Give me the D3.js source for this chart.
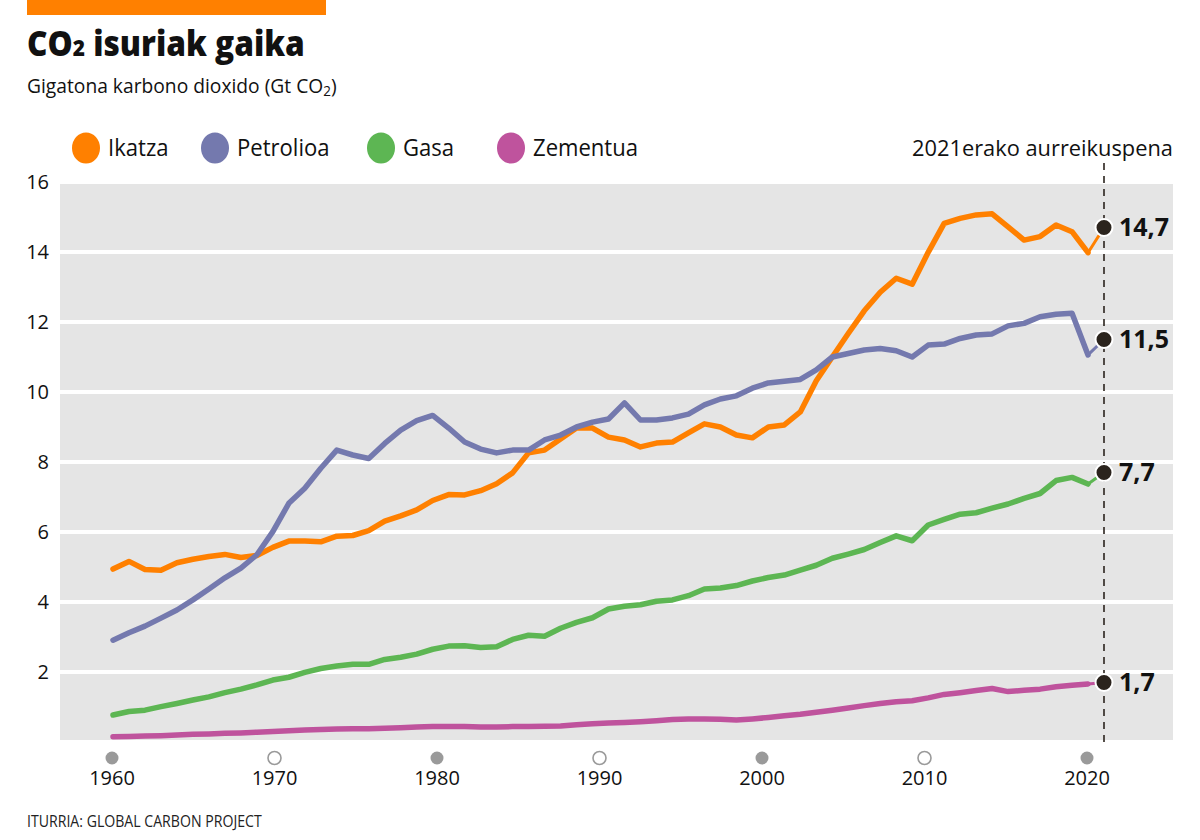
<!DOCTYPE html>
<html><head><meta charset="utf-8">
<script src="https://cdn.jsdelivr.net/npm/d3@7"></script>
<style>
html,body{margin:0;padding:0;background:#fff;}
svg{display:block;font-family:"Open Sans",sans-serif;}
</style></head>
<body>
<svg id="chart" width="1200" height="840"></svg>
<script>
// ---------- data ----------
const years = [1959,1960,1961,1962,1963,1964,1965,1966,1967,1968,1969,1970,1971,1972,1973,1974,1975,1976,1977,1978,1979,1980,1981,1982,1983,1984,1985,1986,1987,1988,1989,1990,1991,1992,1993,1994,1995,1996,1997,1998,1999,2000,2001,2002,2003,2004,2005,2006,2007,2008,2009,2010,2011,2012,2013,2014,2015,2016,2017,2018,2019,2020,2021];
const ikatza = [4.94,5.16,4.93,4.91,5.12,5.22,5.30,5.36,5.27,5.33,5.56,5.74,5.74,5.72,5.88,5.90,6.04,6.31,6.46,6.63,6.90,7.07,7.06,7.18,7.38,7.69,8.26,8.34,8.66,8.97,8.97,8.71,8.63,8.43,8.54,8.57,8.83,9.09,9.00,8.77,8.69,9.00,9.06,9.43,10.32,11.00,11.67,12.32,12.85,13.25,13.08,13.99,14.82,14.96,15.06,15.09,14.72,14.34,14.44,14.77,14.58,13.98,14.7];
const petrolioa = [2.91,3.12,3.31,3.54,3.77,4.06,4.37,4.69,4.97,5.35,6.01,6.82,7.25,7.82,8.34,8.20,8.10,8.53,8.91,9.18,9.33,8.97,8.57,8.37,8.26,8.34,8.34,8.63,8.77,9.00,9.14,9.23,9.69,9.20,9.20,9.26,9.37,9.63,9.80,9.89,10.11,10.26,10.31,10.36,10.63,11.00,11.10,11.20,11.24,11.18,11.00,11.34,11.37,11.53,11.63,11.66,11.89,11.96,12.15,12.22,12.25,11.06,11.5];
const gasa = [0.77,0.87,0.91,1.01,1.10,1.20,1.29,1.41,1.51,1.63,1.77,1.85,1.99,2.10,2.17,2.22,2.22,2.36,2.42,2.51,2.65,2.74,2.75,2.70,2.72,2.93,3.05,3.02,3.25,3.42,3.55,3.80,3.88,3.92,4.02,4.06,4.18,4.37,4.40,4.47,4.60,4.70,4.77,4.91,5.05,5.25,5.37,5.50,5.70,5.89,5.75,6.20,6.36,6.51,6.55,6.68,6.80,6.96,7.10,7.47,7.56,7.37,7.7];
const zementua = [0.15,0.16,0.17,0.18,0.20,0.22,0.23,0.25,0.26,0.28,0.30,0.32,0.34,0.36,0.37,0.38,0.38,0.39,0.41,0.43,0.44,0.44,0.44,0.43,0.43,0.44,0.44,0.45,0.46,0.49,0.52,0.54,0.56,0.58,0.61,0.64,0.66,0.66,0.65,0.63,0.66,0.70,0.75,0.79,0.85,0.91,0.97,1.04,1.10,1.15,1.18,1.26,1.36,1.41,1.47,1.53,1.44,1.48,1.51,1.58,1.62,1.66,1.7];
const seriesNames = ["Ikatza","Petrolioa","Gasa","Zementua"];
const seriesColors = ["#ff8000","#7479ae","#5db653","#bf539d"];
const endLabels = ["14,7","11,5","7,7","1,7"];
const yTicks = [2,4,6,8,10,12,14,16];
const xTickLabels = ["1960","1970","1980","1990","2000","2010","2020"];
const xTickFilled = [true,false,true,false,true,false,true];

const allSeries = [ikatza, petrolioa, gasa, zementua];

// ---------- layout ----------
const svg = d3.select("#chart");
const plot = {left:60, right:1173, top:182, bottom:740};
const x = d3.scaleLinear().domain([1959, 2021]).range([113, 1104]);
const y = d3.scaleLinear().domain([0, 16]).range([742, 182]);
const xAxisPos = d3.scalePoint().domain(xTickLabels).range([112, 1087]);

// helper: squeeze a text group horizontally to a target width (condensed look)
function fitWidth(g, tx, ty, target, anchorEnd){
  const w = g.node().getBBox().width;
  const s = target / w;
  const dx = anchorEnd ? tx - target : tx;
  g.attr("transform", `translate(${dx},${ty}) scale(${s},1)`);
}

// header
svg.append("rect").attr("x",27).attr("y",0).attr("width",299).attr("height",15).attr("fill","#ff8000");
const tg = svg.append("g");
const title = tg.append("text").attr("x",0).attr("y",0)
  .attr("font-size",35).attr("font-weight",800).attr("fill","#111");
title.append("tspan").text("CO");
title.append("tspan").attr("font-size",23).text("2");
title.append("tspan").text(" isuriak gaika");
fitWidth(tg, 27, 56, 278);

const sg = svg.append("g");
const sub = sg.append("text").attr("x",0).attr("y",0)
  .attr("font-size",20).attr("fill","#111");
sub.append("tspan").text("Gigatona karbono dioxido (Gt CO");
sub.append("tspan").attr("font-size",14).attr("dy",3).text("2");
sub.append("tspan").attr("dy",-3).text(")");
fitWidth(sg, 27, 93, 310);

// legend
const legX = [86, 215, 381, 511];
seriesNames.forEach((n,i)=>{
  svg.append("ellipse").attr("cx",legX[i]).attr("cy",148).attr("rx",14).attr("ry",15.5).attr("fill",seriesColors[i]);
  const lg = svg.append("g");
  lg.append("text").attr("x",0).attr("y",0).attr("dy","0.35em")
    .attr("font-size",23).attr("fill","#111").text(n);
  lg.attr("transform",`translate(${legX[i]+22},148) scale(0.96,1)`);
});

const ag = svg.append("g");
ag.append("text").attr("x",0).attr("y",0).attr("dy","0.35em")
  .attr("font-size",22).attr("fill","#111").text("2021erako aurreikuspena");
fitWidth(ag, 1173, 148, 261, true);

// plot background + grid
svg.append("rect").attr("x",plot.left).attr("y",plot.top).attr("width",plot.right-plot.left)
  .attr("height",plot.bottom-plot.top).attr("fill","#e5e5e5");
svg.append("g").selectAll("line").data(yTicks).join("line")
  .attr("x1",plot.left).attr("x2",plot.right)
  .attr("y1",d=>y(d)).attr("y2",d=>y(d))
  .attr("stroke","#fff").attr("stroke-width",4);
svg.append("g").selectAll("text").data(yTicks).join("text")
  .attr("x",49).attr("y",d=>y(d)).attr("dy","0.35em").attr("text-anchor","end")
  .attr("font-size",20).attr("fill","#111").text(d=>d);

// x axis markers
const xg = svg.append("g");
xg.selectAll("circle").data(xTickLabels).join("circle")
  .attr("cx",d=>xAxisPos(d)).attr("cy",758).attr("r",6.5)
  .attr("fill",(d,i)=>xTickFilled[i]?"#9a9a9a":"#fff")
  .attr("stroke","#9a9a9a").attr("stroke-width",(d,i)=>xTickFilled[i]?0:1.6);
xg.selectAll("text").data(xTickLabels).join("text")
  .attr("x",d=>xAxisPos(d)).attr("y",778).attr("dy","0.35em").attr("text-anchor","middle")
  .attr("font-size",20).attr("fill","#111").text(d=>d);

// dashed projection line
svg.append("line").attr("x1",x(2021)).attr("x2",x(2021)).attr("y1",163).attr("y2",742)
  .attr("stroke","#2b241d").attr("stroke-width",1.6).attr("stroke-dasharray","7,6");

// lines
const line = d3.line().x(d=>x(d[0])).y(d=>y(d[1]));
allSeries.forEach((vals,i)=>{
  const pts = years.map((yr,j)=>[yr, vals[j]]);
  const hist = pts.slice(0, pts.length-1);
  const proj = pts.slice(pts.length-2);
  svg.append("path").datum(proj).attr("d",line).attr("fill","none")
    .attr("stroke",seriesColors[i]).attr("stroke-width",3).attr("stroke-linecap","round");
  svg.append("path").datum(hist).attr("d",line).attr("fill","none")
    .attr("stroke",seriesColors[i]).attr("stroke-width",5.5)
    .attr("stroke-linejoin","round").attr("stroke-linecap","round");
});

// end markers
allSeries.forEach((vals,i)=>{
  const v = vals[vals.length-1];
  svg.append("circle").attr("cx",x(2021)).attr("cy",y(v)).attr("r",8.5)
    .attr("fill","#2b241d").attr("stroke","#fff").attr("stroke-width",2);
  svg.append("text").attr("x",x(2021)+15).attr("y",y(v)).attr("dy","0.35em")
    .attr("font-size",25).attr("font-weight",700).attr("fill","#111").text(endLabels[i]);
});

// source
const cg = svg.append("g");
cg.append("text").attr("x",0).attr("y",0).attr("dy","0.35em")
  .attr("font-size",16).attr("fill","#222").text("ITURRIA: GLOBAL CARBON PROJECT");
fitWidth(cg, 27, 821, 235);
</script>
</body></html>
